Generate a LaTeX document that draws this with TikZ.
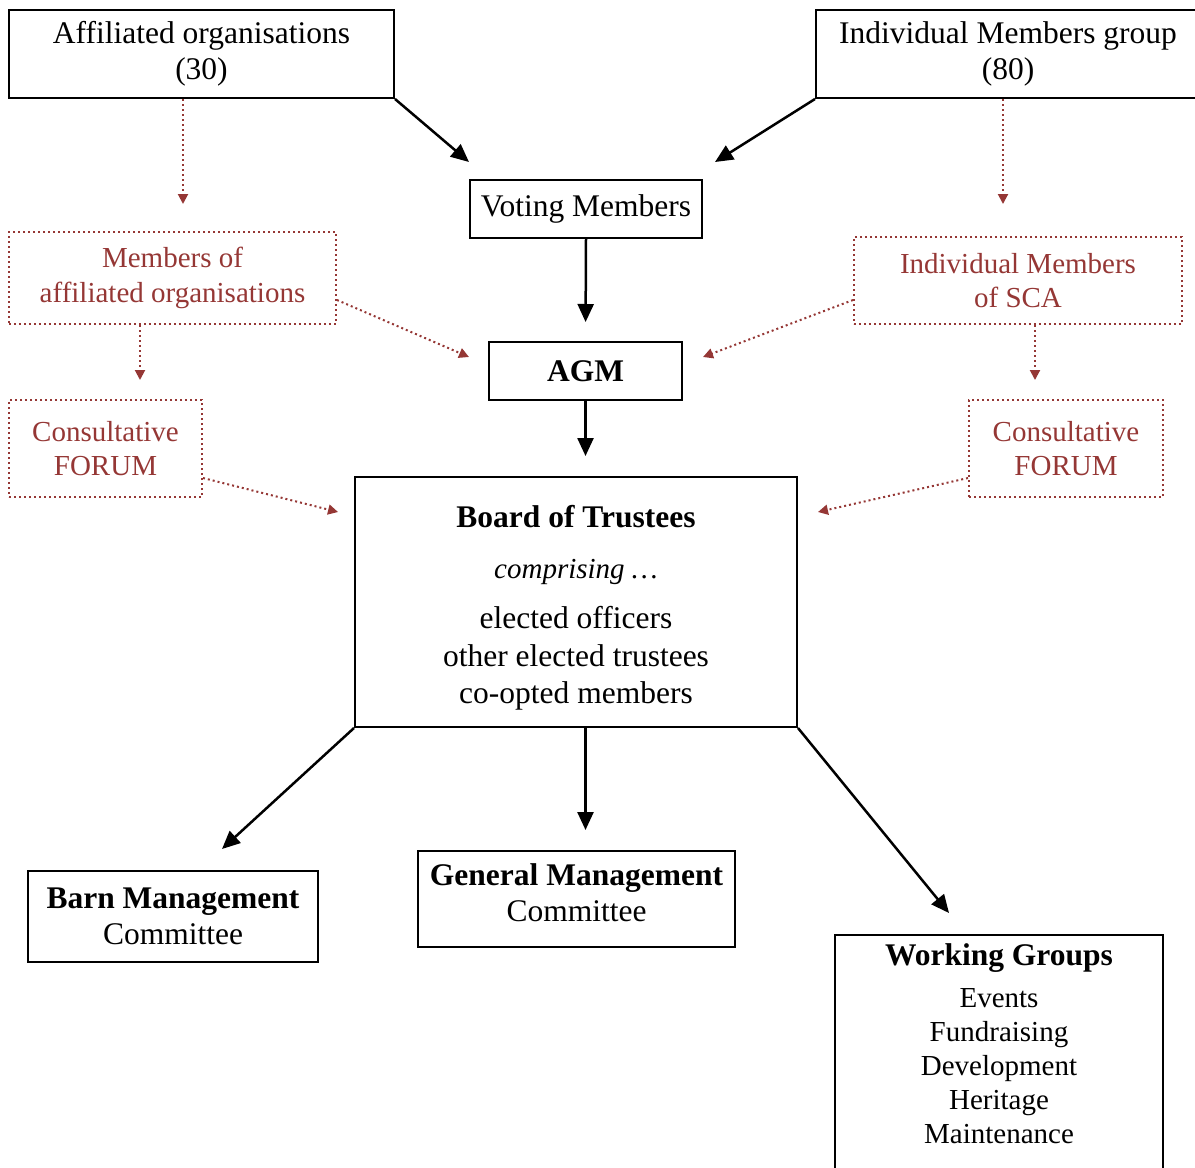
\documentclass[tikz,border=0pt]{standalone}
\usepackage{fontspec}
\setmainfont{Liberation Serif}
\usetikzlibrary{arrows.meta}
\definecolor{brx}{RGB}{149,55,53}
\tikzset{
    solidbox/.style={draw,line width=2pt,inner sep=0pt,align=center,font=\fontsize{31.5}{36}\selectfont},
    dotbox/.style={draw=brx,text=brx,line width=2pt,dash pattern=on 2pt off 3pt,inner sep=0pt,align=center,font=\fontsize{29}{34.5}\selectfont},
    arr/.style={line width=2.5pt,-{Triangle[length=18pt,width=16pt]}},
    darr/.style={brx,line width=2pt,dash pattern=on 2pt off 3pt,-{Triangle[length=10pt,width=10pt]}}
}

\begin{document}
\begin{tikzpicture}[x=1pt,y=-1pt]
    \useasboundingbox (0,0) rectangle (1195,1168);
    % membership
    \node [solidbox,minimum width=385pt,minimum height=88pt] (aff) at (201.5,54) {Affiliated organisations\\(30)};
    \node [solidbox,minimum width=384pt,minimum height=88pt] (img) at (1008,54) {Individual Members group\\(80)};
    \node [solidbox,minimum width=232pt,minimum height=58pt] (vote) at (586,209) {Voting Members};
    \node [solidbox,minimum width=193pt,minimum height=58pt,font=\fontsize{31.5}{36}\selectfont\bfseries] (agm) at (585.5,371) {AGM};
    \node [dotbox,minimum width=327pt,minimum height=92pt] (mem) at (172.5,278) {Members of\\affiliated organisations};
    \node [dotbox,minimum width=328pt,minimum height=87pt] (isca) at (1018,280.5) {Individual Members\\of SCA};
    \node [dotbox,minimum width=193pt,minimum height=97pt] (cfl) at (105.5,448.5) {Consultative\\FORUM};
    \node [dotbox,minimum width=194pt,minimum height=97pt] (cfr) at (1066,448.5) {Consultative\\FORUM};
    % trustees and committees
    \node [solidbox,minimum width=442pt,minimum height=250pt,font=\fontsize{31.5}{37.5}\selectfont] (board) at (576,602)
        {\rule{0pt}{34pt}\textbf{Board of Trustees}\\[13pt]{\fontsize{29}{37.5}\selectfont\itshape comprising \ldots}\\[13pt]elected officers\\other elected trustees\\co-opted members};
    \node [solidbox,minimum width=290pt,minimum height=91pt] (barn) at (173,916.5) {\textbf{Barn Management}\\Committee};
    \node [solidbox,minimum width=317pt,minimum height=96pt] (gmc) at (576.5,899) {\textbf{General Management}\\\rule[-13pt]{0pt}{13pt}Committee};
    \node [solidbox,anchor=north,minimum width=328pt,inner ysep=9pt,text depth=250pt,font=\fontsize{29}{34}\selectfont] (wg) at (999,934)
        {{\fontsize{31.5}{36}\selectfont\bfseries Working Groups}\\[8pt]Events\\Fundraising\\Development\\Heritage\\Maintenance};
    % voting
    \draw [arr] (aff.south east) -- ([yshift=17pt]vote.north west);
    \draw [arr] (img.south west) -- ([xshift=12pt,yshift=17pt]vote.north east);
    \draw [arr,shorten >=19pt] (vote.south) -- (agm.north);
    \draw [arr,shorten >=20pt] (agm.south) -- (agm.south |- board.north);
    \draw [arr,shorten >=20pt] (agm.south |- board.south) -- (agm.south |- gmc.north);
    \draw [arr] (board.south west) -- ([xshift=49pt,yshift=21pt]barn.north);
    \draw [arr] (board.south east) -- ([xshift=-50pt,yshift=21pt]wg.north);
    % consultation
    \draw [darr,shorten >=27pt] ([xshift=-18.5pt]aff.south) -- ([xshift=-18.5pt]aff.south |- mem.north);
    \draw [darr,shorten >=32pt] ([xshift=-5pt]img.south) -- ([xshift=-5pt]img.south |- isca.north);
    \draw [darr,shorten >=19pt] ([xshift=-32.5pt]mem.south) -- ([xshift=-32.5pt]mem.south |- cfl.north);
    \draw [darr,shorten >=19pt] ([xshift=17pt]isca.south) -- ([xshift=17pt]isca.south |- cfr.north);
    \draw [darr] ([yshift=-22pt]mem.east) -- ([xshift=-19pt,yshift=14pt]agm.west);
    \draw [darr] ([yshift=-19.5pt]isca.west) -- ([xshift=20pt,yshift=14pt]agm.east);
    \draw [darr] ([yshift=-29.5pt]cfl.east) -- ([xshift=-16pt,yshift=-36pt]board.north west);
    \draw [darr] ([yshift=-29.5pt]cfr.west) -- ([xshift=20pt,yshift=-36pt]board.north east);
\end{tikzpicture}
\end{document}
